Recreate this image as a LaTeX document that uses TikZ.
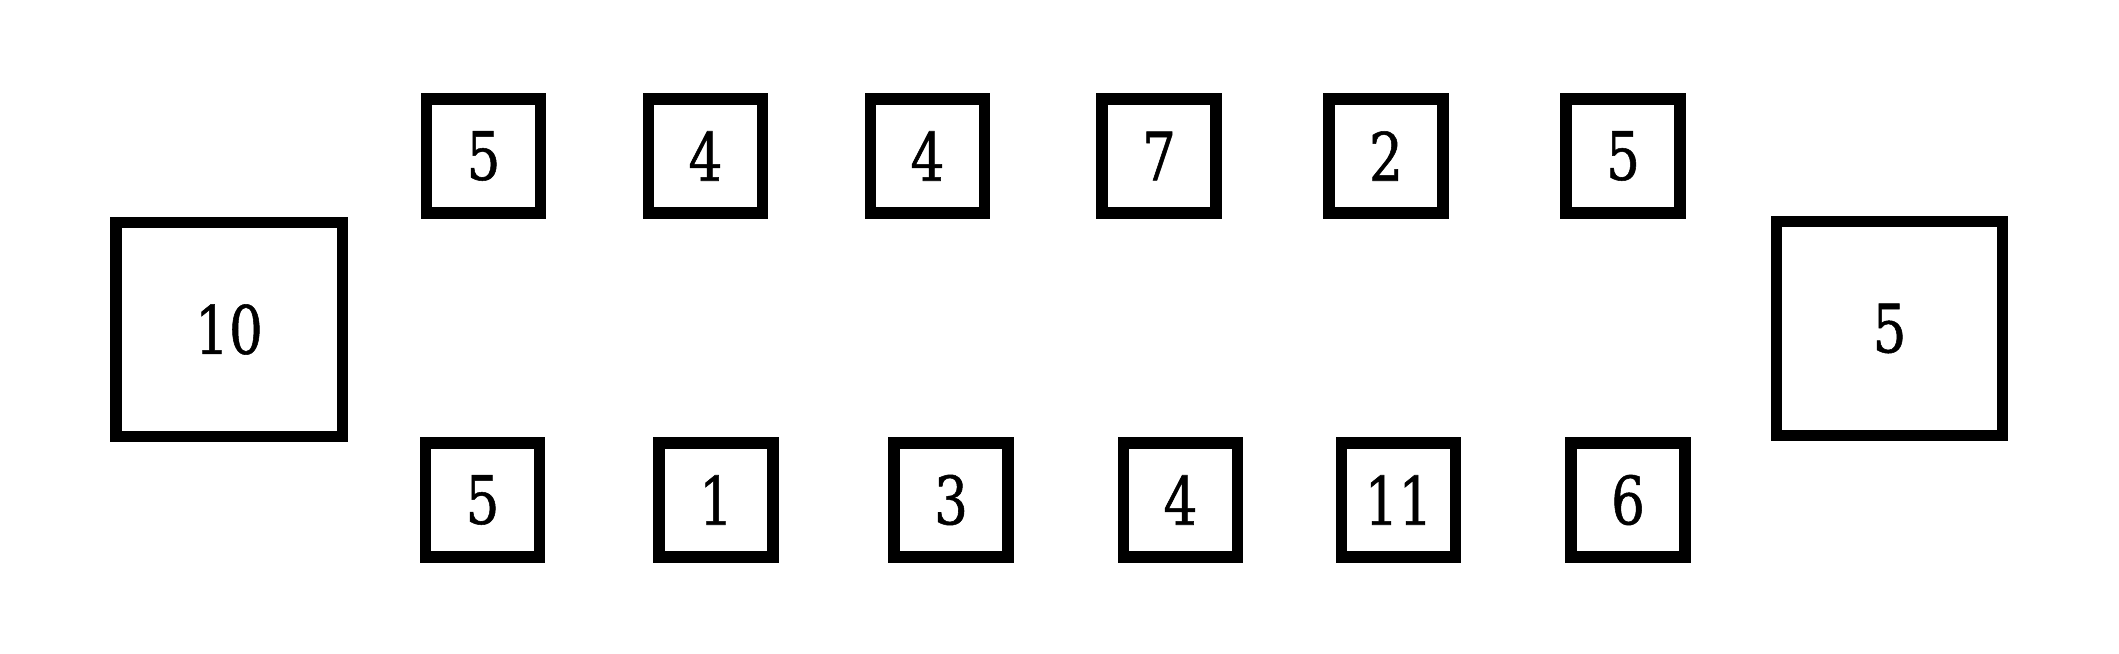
\documentclass[tikz,border=0pt]{standalone}
\usepackage{fontspec}
\newfontfamily\digitfont[FakeStretch=0.8,FakeBold=0.8]{DejaVu Serif}
\begin{document}
\begin{tikzpicture}[x=0.36pt,y=-0.36pt,
  box/.style={draw=black,line width=4.1pt,inner sep=0pt,
    font=\digitfont\fontsize{24}{28}\selectfont},
  smallbox/.style={box,minimum width=41pt,minimum height=41pt},
  bigbox/.style={box,minimum width=81.5pt,minimum height=77pt}]
\useasboundingbox (0,0) rectangle (2119,654);
\node[bigbox] (L) at (229,329.5) {10};
\node[bigbox] (R) at (1889.5,328.5) {5};
\node[smallbox] (t1) at (483.5,156) {5};
\node[smallbox] (t2) at (705.5,156) {4};
\node[smallbox] (t3) at (927.5,156) {4};
\node[smallbox] (t4) at (1159,156) {7};
\node[smallbox] (t5) at (1386,156) {2};
\node[smallbox] (t6) at (1623,156) {5};
\node[smallbox] (b1) at (482.5,500) {5};
\node[smallbox] (b2) at (716,500) {1};
\node[smallbox] (b3) at (951,500) {3};
\node[smallbox] (b4) at (1180.5,500) {4};
\node[smallbox] (b5) at (1398.5,500) {11};
\node[smallbox] (b6) at (1628,500) {6};
\end{tikzpicture}
\end{document}
